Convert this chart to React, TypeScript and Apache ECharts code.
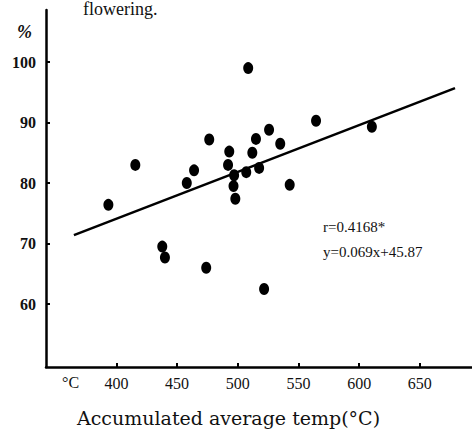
import React, { useEffect, useRef } from "react";
import * as echarts from "echarts";

// Accumulated average temperature (°C) and flowering rate (%)
const tempX: number[] = [
  393.4, 415.6, 437.8, 440, 458, 464, 474, 476.5, 493, 492, 497, 496.5, 498,
  507, 508.6, 512, 515, 517.6, 521.7, 525.8, 535, 542.8, 564.5, 610.5,
];
const rateY: number[] = [
  76.4, 83.0, 69.5, 67.7, 80.0, 82.1, 66.0, 87.2, 85.2, 83.0, 81.3, 79.5, 77.4,
  81.8, 99.0, 85.0, 87.3, 82.5, 62.5, 88.8, 86.5, 79.7, 90.3, 89.3,
];
// regression line end points as drawn
const lineX: number[] = [365, 679];
const lineY: number[] = [71.4, 95.7];

const xTicks: number[] = [400, 450, 500, 550, 600, 650];
const yTicks: number[] = [60, 70, 80, 90, 100];

const SERIF = '"Liberation Serif", "DejaVu Serif", serif';

export default function App() {
  const ref = useRef<HTMLDivElement>(null);
  useEffect(() => {
    if (!ref.current) return;
    const chart = echarts.init(ref.current, undefined, { renderer: "svg" });
    const points = tempX.map((x, i) => [x, rateY[i]]);
    const line = lineX.map((x, i) => [x, lineY[i]]);
    chart.setOption({
      animation: false,
      backgroundColor: "#ffffff",
      grid: { left: 46, right: 0, top: 10, bottom: 67 },
      xAxis: {
        type: "value",
        min: 342,
        max: 693,
        splitLine: { show: false },
        axisLine: { show: true, onZero: false, lineStyle: { color: "#000", width: 2.5 } },
        axisTick: { show: true, inside: true, length: 4, lineStyle: { color: "#000", width: 2 }, customValues: xTicks },
        axisLabel: {
          customValues: xTicks,
          color: "#111",
          fontFamily: SERIF,
          fontSize: 16,
          margin: 8,
        },
      },
      yAxis: {
        type: "value",
        min: 49.6,
        max: 108.6,
        splitLine: { show: false },
        axisLine: { show: true, onZero: false, lineStyle: { color: "#000", width: 2.5 } },
        axisTick: { show: true, inside: true, length: 4, lineStyle: { color: "#000", width: 2 }, customValues: yTicks },
        axisLabel: {
          customValues: yTicks,
          color: "#111",
          fontFamily: SERIF,
          fontSize: 16,
          fontWeight: "bold",
          margin: 10,
        },
      },
      series: [
        {
          type: "line",
          data: line,
          symbol: "none",
          lineStyle: { color: "#000", width: 2.5 },
          z: 2,
        },
        {
          type: "scatter",
          data: points,
          symbol: "circle",
          symbolSize: [10, 12],
          itemStyle: { color: "#000", opacity: 1 },
          z: 3,
        },
      ],
      graphic: [
        {
          type: "text",
          left: 83,
          top: 0,
          style: { text: "flowering.", font: `18px ${SERIF}`, fill: "#111" },
        },
        {
          type: "text",
          left: 17,
          top: 23,
          style: { text: "%", font: `italic bold 18px ${SERIF}`, fill: "#111" },
        },
        {
          type: "text",
          left: 62,
          top: 374,
          style: { text: "°C", font: `16px ${SERIF}`, fill: "#111" },
        },
        {
          type: "text",
          left: 323,
          top: 219,
          style: { text: "r=0.4168*", font: `15px ${SERIF}`, fill: "#111" },
        },
        {
          type: "text",
          left: 323,
          top: 244,
          style: { text: "y=0.069x+45.87", font: `15px ${SERIF}`, fill: "#111" },
        },
        {
          type: "text",
          left: 77,
          top: 408,
          style: { text: "Accumulated average temp(°C)", font: `19px "DejaVu Serif", serif`, fill: "#111" },
        },
      ],
    });
    return () => chart.dispose();
  }, []);
  return (
    <div
      ref={ref}
      style={{ position: "fixed", left: 0, top: 0, width: 472, height: 434, background: "#fff" }}
    />
  );
}
